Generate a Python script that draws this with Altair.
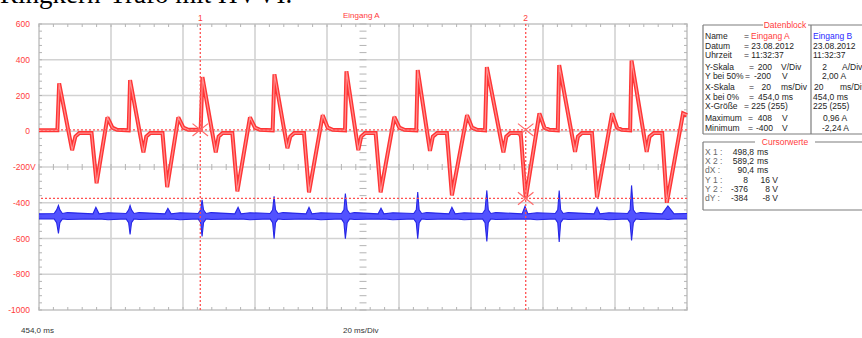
import altair as alt
import pandas as pd

# Eingang A (red trace), time in ms, value in V
red_t = [454.0, 459.1, 459.6, 463.2, 464.1, 465.2, 468.6, 470.0, 473.0, 474.4, 475.7,
         478.9, 479.3, 483.0, 483.8, 484.9, 488.3, 489.6, 492.7, 494.1, 495.5,
         498.9, 499.4, 503.1, 503.9, 505.0, 507.7, 509.1, 512.6, 514.0, 515.4,
         518.9, 519.4, 523.0, 523.8, 524.9, 527.6, 529.0, 532.8, 534.2, 535.6,
         539.0, 539.4, 542.7, 543.5, 544.6, 547.5, 548.9, 552.7, 554.1, 555.5,
         558.8, 559.2, 562.6, 563.4, 564.6, 567.3, 568.7, 572.9, 574.3, 575.7,
         577.9, 578.4, 583.0, 583.8, 584.9, 587.8, 589.2, 593.0, 594.4, 595.8,
         598.1, 598.5, 602.9, 603.7, 604.8, 607.6, 609.0, 613.2, 614.6, 615.9,
         618.2, 618.6, 622.8, 623.6, 624.8, 627.1, 628.4, 632.9, 634.0]
red_v = [5, 5, 268, -106, -30, -10, -10, -291, 78, 20, 8,
         5, 286, -118, -30, -10, -10, -313, 78, 20, 8,
         8, 303, -118, -30, -10, -10, -336, 78, 20, 8,
         5, 319, -95, -30, -10, -10, -342, 90, 20, 8,
         5, 336, -106, -30, -10, -10, -342, 80, 20, 8,
         5, 342, -110, -30, -10, -10, -359, 90, 20, 8,
         5, 359, -118, -30, -10, -10, -376, 100, 20, 8,
         5, 370, -115, -30, -10, -10, -370, 100, 20, 8,
         5, 395, -115, -30, -10, -10, -400, 100, 90]

# Eingang B (blue trace), drawn in the screen's V scale: upper / lower envelope
blue_t = [454.0,
          458.2, 458.9, 459.4, 459.8, 460.5, 461.9, 469.0, 469.8, 470.7, 473.2,
          478.2, 478.9, 479.3, 479.7, 480.4, 481.8, 489.0, 489.8, 490.7, 493.2,
          498.2, 498.9, 499.3, 499.7, 500.4, 501.8, 508.4, 509.3, 510.1, 512.6,
          518.2, 518.9, 519.3, 519.7, 520.4, 521.8, 528.2, 529.0, 529.8, 532.3,
          538.0, 538.7, 539.1, 539.6, 540.3, 541.6, 548.2, 549.0, 549.8, 552.3,
          558.1, 558.8, 559.2, 559.6, 560.3, 561.7, 567.9, 568.7, 569.6, 572.1,
          577.2, 577.9, 578.4, 578.8, 579.5, 580.9, 588.2, 589.0, 589.8, 592.3,
          597.4, 598.1, 598.5, 598.9, 599.6, 601.0, 608.2, 609.0, 609.8, 612.3,
          617.5, 618.2, 618.6, 619.1, 619.8, 621.1, 627.1, 628.7, 630.4, 634.0]
blue_hi = [-462,
           -460, -440, -415, -440, -460, -455, -462, -426, -462, -456,
           -460, -440, -415, -440, -460, -455, -462, -431, -462, -456,
           -460, -440, -383, -440, -460, -455, -462, -426, -462, -456,
           -460, -440, -364, -440, -460, -455, -462, -426, -462, -456,
           -460, -440, -349, -440, -460, -455, -462, -431, -462, -456,
           -460, -440, -340, -440, -460, -455, -462, -426, -462, -456,
           -460, -440, -331, -440, -460, -455, -462, -420, -462, -456,
           -460, -440, -331, -440, -460, -455, -462, -426, -462, -456,
           -460, -440, -303, -440, -460, -455, -462, -418, -462, -460]
blue_lo = [-490,
           -490, -512, -571, -512, -490, -494, -490, -492, -490, -495,
           -490, -512, -577, -512, -490, -494, -490, -492, -490, -495,
           -490, -512, -588, -512, -490, -494, -490, -492, -490, -495,
           -490, -512, -601, -512, -490, -494, -490, -492, -490, -495,
           -490, -512, -601, -512, -490, -494, -490, -492, -490, -495,
           -490, -512, -601, -512, -490, -494, -490, -492, -490, -495,
           -490, -512, -616, -512, -490, -494, -490, -492, -490, -495,
           -490, -512, -620, -512, -490, -494, -490, -492, -490, -495,
           -490, -512, -611, -512, -490, -494, -490, -494, -490, -490]

cursor_t = [498.8, 589.2]
cursor_lbl = ["1", "2"]
cursor_v = [8, -376]
cross_t = [498.8, 589.2, 589.2]
cross_v = [8, 8, -376]

y_ticks = [600, 400, 200, 0, -200, -400, -600, -800, -1000]
y_labels = ["600", "400", "200", "0", "-200", "-400", "-600", "-800", "-1000"]
x_ticks = [454, 474, 494, 514, 534, 554, 574, 594, 614, 634]

W, H = 648, 286
OX, OY = 39, 24  # plot origin inside the page
RED = "#ff3b3b"
FONT = "Liberation Sans"

xs = alt.Scale(domain=[454, 634], nice=False, zero=False)
ys = alt.Scale(domain=[-1000, 600], nice=False, zero=False)
X = lambda f: alt.X(f, type="quantitative", scale=xs, axis=None)
Y = lambda f: alt.Y(f, type="quantitative", scale=ys, axis=None)

red_df = pd.DataFrame({"t": red_t, "v": red_v})
blue_df = pd.DataFrame({"t": blue_t, "hi": blue_hi, "lo": blue_lo})

layers = []

# grid
layers.append(alt.Chart(pd.DataFrame({"v": y_ticks})).mark_rule(color="#d2d2d2", strokeWidth=1.6).encode(y=Y("v")))
layers.append(alt.Chart(pd.DataFrame({"t": x_ticks})).mark_rule(color="#d2d2d2", strokeWidth=1.6).encode(x=X("t")))

# minor ticks (decoration)
ymin = pd.DataFrame({"v": [-1000 + 40 * i for i in range(41)]})
xmin = pd.DataFrame({"t": [454 + 4 * i for i in range(46)]})
tk = dict(color="#b4b4b4", strokeWidth=1)
layers.append(alt.Chart(ymin).mark_rule(**tk).encode(y=Y("v"), x=alt.value(0), x2=alt.value(3)))
layers.append(alt.Chart(ymin).mark_rule(**tk).encode(y=Y("v"), x=alt.value(W - 3), x2=alt.value(W)))
layers.append(alt.Chart(ymin).mark_rule(**tk).encode(y=Y("v"), x=alt.value(W / 2 - 3.5), x2=alt.value(W / 2 + 3.5)))
layers.append(alt.Chart(xmin).mark_rule(**tk).encode(x=X("t"), y=alt.value(H - 3), y2=alt.value(H)))
layers.append(alt.Chart(xmin).mark_rule(**tk).encode(x=X("t"), y=alt.value(0), y2=alt.value(3)))
layers.append(alt.Chart(xmin).mark_rule(**tk).encode(x=X("t"), y=alt.value(H / 2 - 3), y2=alt.value(H / 2 + 3)))

# traces
layers.append(alt.Chart(blue_df).mark_area(color="#3f3fff", opacity=0.9, interpolate="linear").encode(x=X("t"), y=Y("hi"), y2="lo:Q"))
layers.append(alt.Chart(blue_df).mark_line(color="#2626e6", strokeWidth=1.1).encode(x=X("t"), y=Y("hi")))
layers.append(alt.Chart(blue_df).mark_line(color="#2626e6", strokeWidth=1.1).encode(x=X("t"), y=Y("lo")))
layers.append(alt.Chart(red_df).mark_line(color="#ff3434", strokeWidth=4, strokeJoin="miter", strokeMiterLimit=2.5).encode(x=X("t"), y=Y("v")))
layers.append(alt.Chart(red_df).mark_line(color="#ff8f8f", strokeWidth=1.2).encode(x=X("t"), y=Y("v")))

# cursors
cdf = pd.DataFrame({"t": cursor_t, "v": cursor_v, "lbl": cursor_lbl})
dot = dict(color="#ff5050", strokeDash=[2, 2], strokeWidth=1.3)
layers.append(alt.Chart(cdf).mark_rule(**dot).encode(x=X("t")))
layers.append(alt.Chart(cdf).mark_rule(**dot).encode(y=Y("v")))
layers.append(alt.Chart(cdf).mark_text(color=RED, font=FONT, fontSize=8.5, baseline="middle").encode(x=X("t"), y=alt.value(-6), text="lbl:N"))
layers.append(alt.Chart(pd.DataFrame({"t": cross_t, "v": cross_v})).mark_point(
    shape="M-1,-0.8L1,0.8M1,-0.8L-1,0.8", size=240, filled=False, color="#ff6a6a", strokeWidth=1.2, opacity=1
).encode(x=X("t"), y=Y("v")))

# y labels
ydf = pd.DataFrame({"v": y_ticks, "lab": y_labels})
layers.append(alt.Chart(ydf).mark_text(color=RED, font=FONT, fontSize=8.5, align="right", baseline="middle").encode(
    x=alt.value(-9), y=Y("v"), text="lab:N"))
layers.append(alt.Chart(pd.DataFrame({"v": [-200], "lab": ["V"]})).mark_text(color=RED, font=FONT, fontSize=8.5, align="left", baseline="middle").encode(
    x=alt.value(-9), y=Y("v"), text="lab:N"))

# ---------- fixed texts (page pixel positions) ----------
def txt(items, align, size=8.5, font=FONT, baseline="middle", dy=0):
    df = pd.DataFrame(items, columns=["px", "py", "s", "c"])
    df["px"] = df["px"] - OX
    df["py"] = df["py"] - OY
    return alt.Chart(df).mark_text(align=align, baseline=baseline, font=font, fontSize=size, dy=dy).encode(
        x=alt.X("px:Q", scale=None, axis=None), y=alt.Y("py:Q", scale=None, axis=None),
        text="s:N", color=alt.Color("c:N", scale=None))

D, G, B = "#1e1e1e", "#6a6a6a", "#2a2aff"
left_items = [
    (705, 35.7, "Name", D), (744, 35.7, "=", D), (751, 35.7, "Eingang A", RED), (813, 35.7, "Eingang B", B),
    (705, 46, "Datum", D), (744, 46, "= 23.08.2012", D), (813, 46, "23.08.2012", D),
    (705, 55, "Uhrzeit", D), (744, 55, "= 11:32:37", D), (813, 55, "11:32:37", D),
    (705, 66.7, "Y-Skala", D), (749, 66.7, "=", D), (781, 66.7, "V/Div", D), (842, 66.7, "A/Div", D),
    (705, 76, "Y bei 50%", D), (745, 76, "=", D), (782, 76, "V", D), (822, 76, "2,00 A", D),
    (705, 86.7, "X-Skala", D), (749, 86.7, "=", D), (781, 86.7, "ms/Div", D), (814, 86.7, "20", D), (840, 86.7, "ms/Div", D),
    (705, 96.7, "X bei 0%", D), (749, 96.7, "=", D), (758, 96.7, "454,0 ms", D), (813, 96.7, "454,0  ms", D),
    (705, 105.7, "X-Größe", D), (744, 105.7, "= 225 (255)", D), (813, 105.7, "225 (255)", D),
    (705, 118, "Maximum", D), (748, 118, "=", D), (782, 118, "V", D), (823, 118, "0,96 A", D),
    (705, 128, "Minimum", D), (748, 128, "=", D), (782, 128, "V", D), (822, 128, "-2,24 A", D),
    (705, 151.7, "X 1 :", G), (757, 151.7, "ms", D),
    (705, 160.7, "X 2 :", G), (757, 160.7, "ms", D),
    (705, 170, "dX :", G), (757, 170, "ms", D),
    (705, 180, "Y 1 :", G), (705, 189, "Y 2 :", G), (705, 198.3, "dY :", G),
]
right_items = [
    (772, 66.7, "200", D), (827, 66.7, "2", D), (771, 76, "-200", D), (771, 86.7, "20", D),
    (772, 118, "408", D), (773, 128, "-400", D),
    (754, 151.7, "498,8", D), (754, 160.7, "589,2", D), (754, 170, "90,4", D),
    (748, 180, "8", D), (748, 189, "-376", D), (748, 198.3, "-384", D),
    (778, 180, "16 V", D), (778, 189, "8 V", D), (778, 198.3, "-8 V", D),
]
center_items = [(785, 25, "Datenblock", RED), (785, 142, "Cursorwerte", RED)]
layers.append(txt(left_items, "left"))
layers.append(txt(right_items, "right"))
layers.append(txt(center_items, "center"))
layers.append(txt([(343, 16, "Eingang A", RED)], "left", size=8))
layers.append(txt([(21, 331, "454,0 ms", "#333333"), (343, 331, "20 ms/Div", "#333333")], "left", size=8))
# caption of the surrounding document, cut off at the top edge
layers.append(txt([(0, 0, "Ringkern-Trafo mit HVVI.", "#000000")], "left", size=27,
                  font="Liberation Serif", baseline="alphabetic", dy=2.5))

# panel boxes
def seg(items, color="#7c7c7c", w=1.2):
    df = pd.DataFrame(items, columns=["x1", "y1", "x2", "y2"])
    for c in ["x1", "x2"]:
        df[c] = df[c] - OX
    for c in ["y1", "y2"]:
        df[c] = df[c] - OY
    return alt.Chart(df).mark_rule(color=color, strokeWidth=w).encode(
        x=alt.X("x1:Q", scale=None, axis=None), x2="x2:Q",
        y=alt.Y("y1:Q", scale=None, axis=None), y2="y2:Q")

layers.append(seg([
    (703, 25, 763, 25), (808, 25, 875, 25), (703, 25, 703, 134), (703, 134, 875, 134), (811, 25, 811, 134),
    (703, 142, 755, 142), (815, 142, 875, 142), (703, 142, 703, 210), (703, 210, 875, 210),
]))

chart = alt.layer(*layers).resolve_scale(x="independent", y="independent").properties(
    width=W, height=H,
    padding={"left": OX, "top": OY, "right": 862 - OX - W, "bottom": 338 - OY - H},
    autosize=alt.AutoSizeParams(type="none"),
    background="white",
).configure_view(stroke="#c4c4c4", strokeWidth=1.6)

chart.save("out.html", embed_options={"renderer": "svg", "actions": False})
